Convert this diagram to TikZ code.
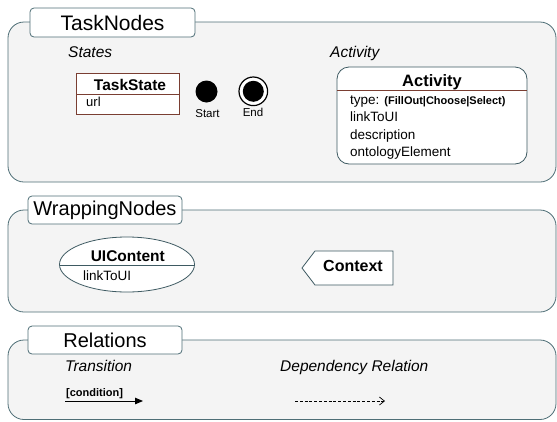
\documentclass[tikz,border=0pt]{standalone}
\usepackage{fontspec}
\setmainfont{Liberation Sans}
\usetikzlibrary{arrows.meta,shapes.geometric}
\definecolor{panelfill}{HTML}{F4F4F4}
\definecolor{panelline}{HTML}{4E6E76}
\definecolor{boxline}{HTML}{7A3E32}
\definecolor{actline}{HTML}{3E5A62}
\newcommand{\myfs}[1]{\fontsize{#1}{#1}\selectfont}
\begin{document}
\begin{tikzpicture}[x=1pt,y=-1pt,
  panel/.style={draw=panelline, fill=panelfill, line width=0.8pt, rounded corners=16pt},
  tab/.style={draw=panelline, fill=white, line width=0.8pt, rounded corners=4pt, inner sep=0pt},
  lbl/.style={inner sep=0pt, anchor=base west},
  lblc/.style={inner sep=0pt, anchor=base},
  section/.style={lbl, font=\myfs{15.5}\itshape},
  attr/.style={lbl, font=\myfs{13.5}},
  title/.style={lblc, font=\myfs{16}\bfseries}]
\useasboundingbox (0,0) rectangle (557,421);

% ---------- TaskNodes panel
\draw[panel] (8,22) rectangle (556,182);
\node[tab, minimum width=165pt, minimum height=29pt, font=\myfs{21}] (tasknodes) at (112.5,22.5) {TaskNodes};
\node[section] (states) at (68,57) {States};
\node[section] (activitylbl) at (330,57) {Activity};

% TaskState
\draw[draw=boxline, fill=white, line width=0.8pt] (76.5,73.5) rectangle (179,114);
\draw[draw=boxline, line width=0.8pt] (76.5,94) -- (179,94);
\node[title, font=\myfs{15.5}\bfseries] (taskstate) at (130,90.5) {TaskState};
\node[attr, font=\myfs{13}] (url) at (86,106.5) {url};

% Start / End
\fill (206.5,91.5) circle[radius=11];
\node[lblc, font=\myfs{11.5}] (start) at (207.5,117) {Start};
\draw[line width=1.2pt, fill=white] (253.3,91.3) circle[radius=14.3];
\fill (253.3,91.3) circle[radius=10.5];
\node[lblc, font=\myfs{11.5}] (end) at (253,116) {End};

% Activity
\draw[draw=actline, fill=white, line width=0.8pt, rounded corners=12pt] (337,67) rectangle (527,164);
\draw[draw=boxline, line width=0.8pt] (337,90.7) -- (527,90.7);
\node[title, font=\myfs{16.5}\bfseries] (activity) at (432,86.5) {Activity};
\node[attr] (type) at (350,104.5) {type: {\myfs{11}\bfseries (FillOut|Choose|Select)}};
\node[attr] (link1) at (350,121.8) {linkToUI};
\node[attr] (descr) at (350,139.1) {description};
\node[attr] (onto) at (350,156.4) {ontologyElement};

% ---------- WrappingNodes panel
\draw[panel] (8,210) rectangle (556,312);
\node[tab, minimum width=154pt, minimum height=28pt, font=\myfs{20}] (wrapping) at (105,210) {WrappingNodes};

\draw[draw=actline, fill=white, line width=0.8pt] (127,264.5) ellipse[x radius=67.5, y radius=27.5];
\draw[draw=actline, line width=0.8pt] (59.5,265) -- (194.5,265);
\node[title, font=\myfs{15.5}\bfseries] (uicontent) at (127.8,261.5) {UIContent};
\node[attr] (link2) at (83,280) {linkToUI};

\draw[draw=actline, fill=white, line width=0.8pt] (315,251) -- (393,251) -- (393,285) -- (315,285) -- (302,268) -- cycle;
\node[title] (context) at (353,271.7) {Context};

% ---------- Relations panel
\draw[panel] (8,340) rectangle (556,419.5);
\node[tab, minimum width=154pt, minimum height=28pt, font=\myfs{20}] (relations) at (105,340) {Relations};
\node[section] (transition) at (65,371.7) {Transition};
\node[section] (dependency) at (280,371.7) {Dependency Relation};

\node[lbl, font=\myfs{11}\bfseries] (condition) at (66,396) {[condition]};
\coordinate (t1) at (65,401);
\coordinate (t2) at (143,401);
\draw[line width=1pt, -{Triangle[length=8pt,width=6.5pt]}] (t1) -- (t2);

\coordinate (d1) at (295,401);
\coordinate (d2) at (385,401);
\draw[line width=0.7pt, dash pattern=on 3pt off 1.8pt, -{Straight Barb[length=5pt,width=8pt]}] (d1) -- (d2);
\end{tikzpicture}
\end{document}
